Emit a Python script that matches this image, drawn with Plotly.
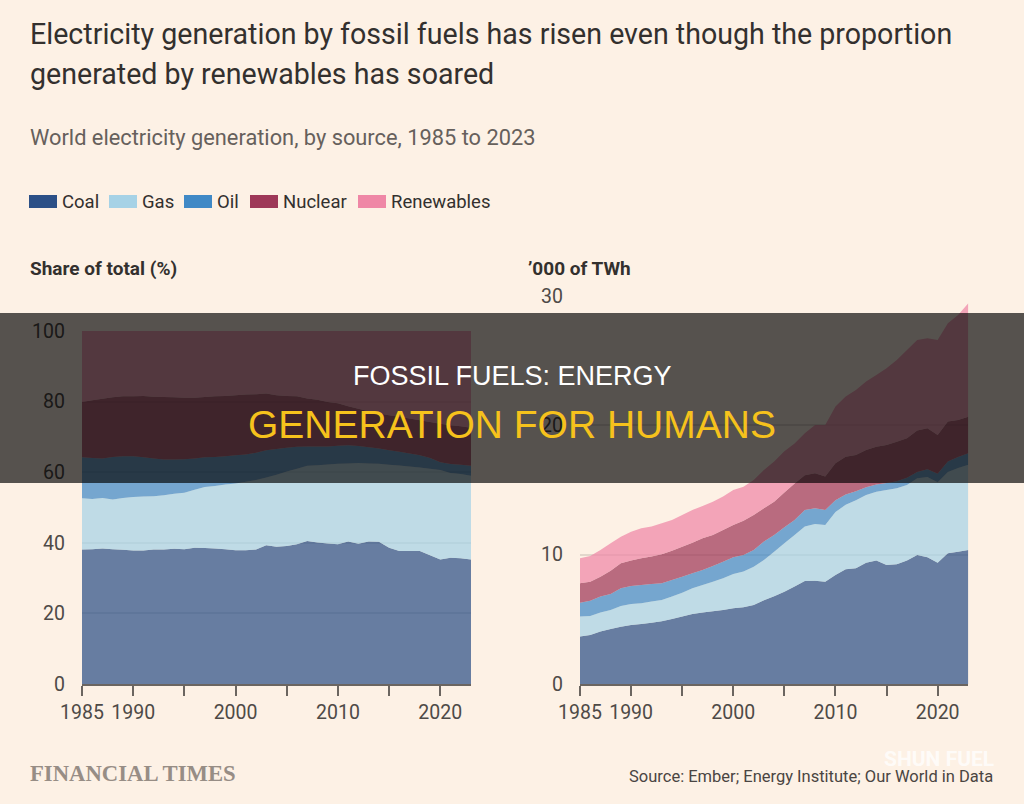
import plotly.graph_objects as go

# ---------------- data ----------------
years = [1985, 1986, 1987, 1988, 1989, 1990, 1991, 1992, 1993, 1994,
         1995, 1996, 1997, 1998, 1999, 2000, 2001, 2002, 2003, 2004,
         2005, 2006, 2007, 2008, 2009, 2010, 2011, 2012, 2013, 2014,
         2015, 2016, 2017, 2018, 2019, 2020, 2021, 2022, 2023]

sources = ["Coal", "Gas", "Oil", "Nuclear", "Renewables"]

# share of total (%)
coal_share = [38.1, 38.2, 38.4, 38.2, 38.0, 37.8, 37.8, 38.1, 38.1, 38.3,
              38.2, 38.6, 38.5, 38.4, 38.2, 37.9, 37.9, 38.1, 39.3, 38.9,
              39.1, 39.6, 40.5, 40.1, 39.8, 39.6, 40.4, 39.7, 40.4, 40.3,
              38.6, 37.7, 37.7, 37.7, 36.5, 35.3, 35.8, 35.6, 35.3]
gas_share = [14.5, 14.2, 14.3, 14.1, 14.7, 15.2, 15.3, 15.1, 15.4, 15.6,
             16.0, 16.4, 17.3, 17.7, 18.3, 18.9, 19.4, 19.7, 19.2, 20.4,
             21.1, 21.4, 21.3, 21.9, 22.4, 22.8, 22.1, 22.9, 22.1, 22.1,
             23.5, 24.2, 23.9, 23.6, 24.5, 25.3, 24.0, 23.9, 23.7]
oil_share = [11.6, 11.6, 11.2, 12.0, 11.8, 11.5, 11.1, 10.7, 10.1, 9.7,
             9.5, 8.9, 8.4, 8.2, 8.0, 8.0, 7.7, 7.7, 7.7, 7.3,
             6.7, 6.2, 5.5, 5.3, 5.1, 5.1, 5.1, 4.8, 4.6, 4.3,
             4.1, 3.9, 3.7, 3.5, 3.0, 2.2, 2.5, 2.6, 2.8]
nuclear_share = [15.7, 16.4, 16.9, 16.9, 17.0, 17.0, 17.4, 17.5, 17.7, 17.6,
                 17.4, 17.2, 17.1, 17.2, 17.1, 17.0, 17.0, 16.6, 16.1, 15.2,
                 14.7, 14.3, 13.6, 13.2, 12.6, 12.0, 11.1, 10.6, 10.2, 9.9,
                 9.9, 9.9, 9.9, 9.9, 10.2, 10.9, 11.0, 10.9, 10.8]
renew_share = [20.1, 19.6, 19.2, 18.8, 18.5, 18.5, 18.4, 18.6, 18.7, 18.8,
               18.9, 18.9, 18.7, 18.5, 18.4, 18.2, 18.0, 17.9, 17.7, 18.2,
               18.4, 18.5, 19.1, 19.5, 20.1, 20.5, 21.3, 22.0, 22.7, 23.4,
               23.9, 24.3, 24.8, 25.3, 25.8, 26.3, 26.7, 27.0, 27.4]

# '000 of TWh
coal_twh = [3.68, 3.79, 4.05, 4.25, 4.43, 4.56, 4.64, 4.74, 4.85, 5.03,
            5.21, 5.41, 5.52, 5.62, 5.72, 5.85, 5.93, 6.10, 6.47, 6.78,
            7.14, 7.53, 7.97, 7.99, 7.91, 8.43, 8.87, 8.95, 9.38, 9.54,
            9.20, 9.26, 9.54, 9.98, 9.80, 9.38, 10.10, 10.23, 10.36]
gas_twh = [1.53, 1.47, 1.47, 1.47, 1.60, 1.63, 1.60, 1.63, 1.65, 1.73,
           1.85, 1.99, 2.14, 2.29, 2.45, 2.65, 2.76, 2.97, 3.12, 3.45,
           3.74, 3.99, 4.20, 4.38, 4.39, 4.87, 4.98, 5.25, 5.24, 5.33,
           5.80, 5.87, 5.85, 5.92, 6.20, 6.22, 6.30, 6.47, 6.59]
oil_twh = [1.08, 1.18, 1.24, 1.24, 1.37, 1.39, 1.42, 1.36, 1.29, 1.28,
           1.24, 1.16, 1.16, 1.22, 1.29, 1.30, 1.29, 1.29, 1.42, 1.29,
           1.24, 1.16, 1.29, 1.22, 1.16, 0.90, 0.80, 0.70, 0.60, 0.55,
           0.55, 0.55, 0.55, 0.50, 0.60, 0.65, 0.80, 0.85, 0.89]
nuclear_twh = [1.50, 1.47, 1.54, 1.80, 1.93, 1.96, 2.06, 2.12, 2.24, 2.27,
               2.32, 2.37, 2.45, 2.39, 2.45, 2.50, 2.65, 2.71, 2.58, 2.58,
               2.68, 2.82, 2.69, 2.71, 2.59, 2.87, 2.93, 2.81, 2.88, 2.93,
               2.93, 3.06, 3.06, 3.20, 3.18, 3.01, 3.09, 2.87, 2.83]
renew_twh = [1.93, 1.99, 2.06, 2.12, 2.06, 2.24, 2.32, 2.32, 2.40, 2.37,
             2.45, 2.53, 2.50, 2.58, 2.58, 2.70, 2.63, 2.71, 2.96, 3.10,
             3.20, 3.10, 3.24, 3.73, 3.98, 4.38, 4.64, 5.03, 5.28, 5.55,
             5.94, 6.32, 6.83, 7.00, 6.96, 7.34, 7.61, 8.12, 8.77]

x_tickvals = [1985, 1990, 1995, 2000, 2005, 2010, 2015, 2020]
x_ticktext = ["1985", "1990", "", "2000", "", "2010", "", "2020"]
left_ticks = [0, 20, 40, 60, 80, 100]
right_ticks = [0, 10, 20, 30]

# ---------------- style ----------------
W, H = 1024, 804
BG = "#fdf1e5"
FONT = "Roboto"
TEXT_DARK = "#33302e"
TEXT_MID = "#4e4a47"
legend_colors = ["#2c5087", "#a6d2e6", "#4089c6", "#9e3858", "#ef87a6"]
fill_alpha = 0.72


def rgba(hx, a):
    hx = hx.lstrip("#")
    r, g, b = int(hx[0:2], 16), int(hx[2:4], 16), int(hx[4:6], 16)
    return f"rgba({r},{g},{b},{a})"


def px_x(p):
    return p / W


def px_y(p):
    return 1 - p / H


fig = go.Figure()

share_series = [coal_share, gas_share, oil_share, nuclear_share, renew_share]
twh_series = [coal_twh, gas_twh, oil_twh, nuclear_twh, renew_twh]

for name, vals, col in zip(sources, share_series, legend_colors):
    fig.add_trace(go.Scatter(x=years, y=vals, name=name, stackgroup="share",
                             mode="none", fillcolor=rgba(col, fill_alpha),
                             line=dict(width=0), xaxis="x", yaxis="y",
                             showlegend=False))
for name, vals, col in zip(sources, twh_series, legend_colors):
    fig.add_trace(go.Scatter(x=years, y=vals, name=name, stackgroup="twh",
                             mode="none", fillcolor=rgba(col, fill_alpha),
                             line=dict(width=0), xaxis="x2", yaxis="y2",
                             showlegend=False))

bottom = px_y(684)
axis_common = dict(
    range=[1985, 2023], tickvals=x_tickvals, ticktext=x_ticktext,
    ticks="outside", ticklen=10, tickwidth=1.5, tickcolor="#6b6560",
    showline=True, linecolor="#6b6560", linewidth=1.5,
    showgrid=False, zeroline=False, automargin=False,
    tickfont=dict(family=FONT, size=19.5, color=TEXT_MID),
    fixedrange=True,
)
yaxis_common = dict(
    showgrid=True, gridcolor="#e2d7cc", gridwidth=1.5, zeroline=False,
    showline=False, ticks="", ticklabelstandoff=16, automargin=False,
    tickfont=dict(family=FONT, size=19.5, color=TEXT_MID), fixedrange=True,
)

fig.update_layout(
    width=W, height=H,
    paper_bgcolor=BG, plot_bgcolor=BG,
    margin=dict(l=0, r=0, t=0, b=0, pad=0, autoexpand=False),
    showlegend=False,
    xaxis=dict(domain=[px_x(82), px_x(471)], anchor="y", **axis_common),
    yaxis=dict(domain=[bottom, px_y(331)], range=[0, 100], tickvals=left_ticks,
               anchor="x", **yaxis_common),
    xaxis2=dict(domain=[px_x(580), px_x(968.3)], anchor="y2", **axis_common),
    yaxis2=dict(domain=[bottom, px_y(296)], range=[0, 30], tickvals=right_ticks,
                anchor="x2", **yaxis_common),
)

ann = []


def text(x, y, s, size, color=TEXT_DARK, anchor="left", family=FONT, **kw):
    ann.append(dict(x=px_x(x), y=px_y(y), xref="paper", yref="paper",
                    text=s, showarrow=False, xanchor=anchor, yanchor="middle",
                    borderpad=0,
                    font=dict(family=family, size=size, color=color), **kw))


text(29, 34, "Electricity generation by fossil fuels has risen even though the proportion", 28.6)
text(29, 74, "generated by renewables has soared", 28.6)
text(29, 137, "World electricity generation, by source, 1985 to 2023", 21.8, color="#66605c")

# legend
swatch_x = [29, 109, 184, 250, 358]
shapes = []
for sx, name, col in zip(swatch_x, sources, legend_colors):
    shapes.append(dict(type="rect", xref="paper", yref="paper",
                       x0=px_x(sx), x1=px_x(sx + 28), y0=px_y(208), y1=px_y(195),
                       fillcolor=col, line=dict(width=0), layer="above"))
    text(sx + 32, 202, name, 18.5, color=TEXT_DARK)

text(29, 269, "<b>Share of total (%)</b>", 19, color=TEXT_DARK)
text(527, 269, "<b>\u2019000 of TWh</b>", 19, color=TEXT_DARK)

text(29, 773, "<b>FINANCIAL TIMES</b>", 22.7, color="#978d85", family="Liberation Serif")
text(994, 776, "Source: Ember; Energy Institute; Our World in Data", 16.5,
     color="#4a4542", anchor="right")
text(995, 759, "<b>SHUN FUEL</b>", 21, color="rgba(255,255,255,0.75)", anchor="right")

# overlay banner
shapes.append(dict(type="rect", xref="paper", yref="paper",
                   x0=0, x1=1, y0=px_y(483), y1=px_y(313),
                   fillcolor="rgba(0,0,0,0.66)", line=dict(width=0), layer="above"))
text(512, 376, "FOSSIL FUELS: ENERGY", 27, color="#ffffff", anchor="center",
     family="Liberation Sans")
text(512, 424, "GENERATION FOR HUMANS", 39, color="#f6c21c", anchor="center",
     family="Liberation Sans")

fig.update_layout(annotations=ann, shapes=shapes)

fig.write_html("out.html")
